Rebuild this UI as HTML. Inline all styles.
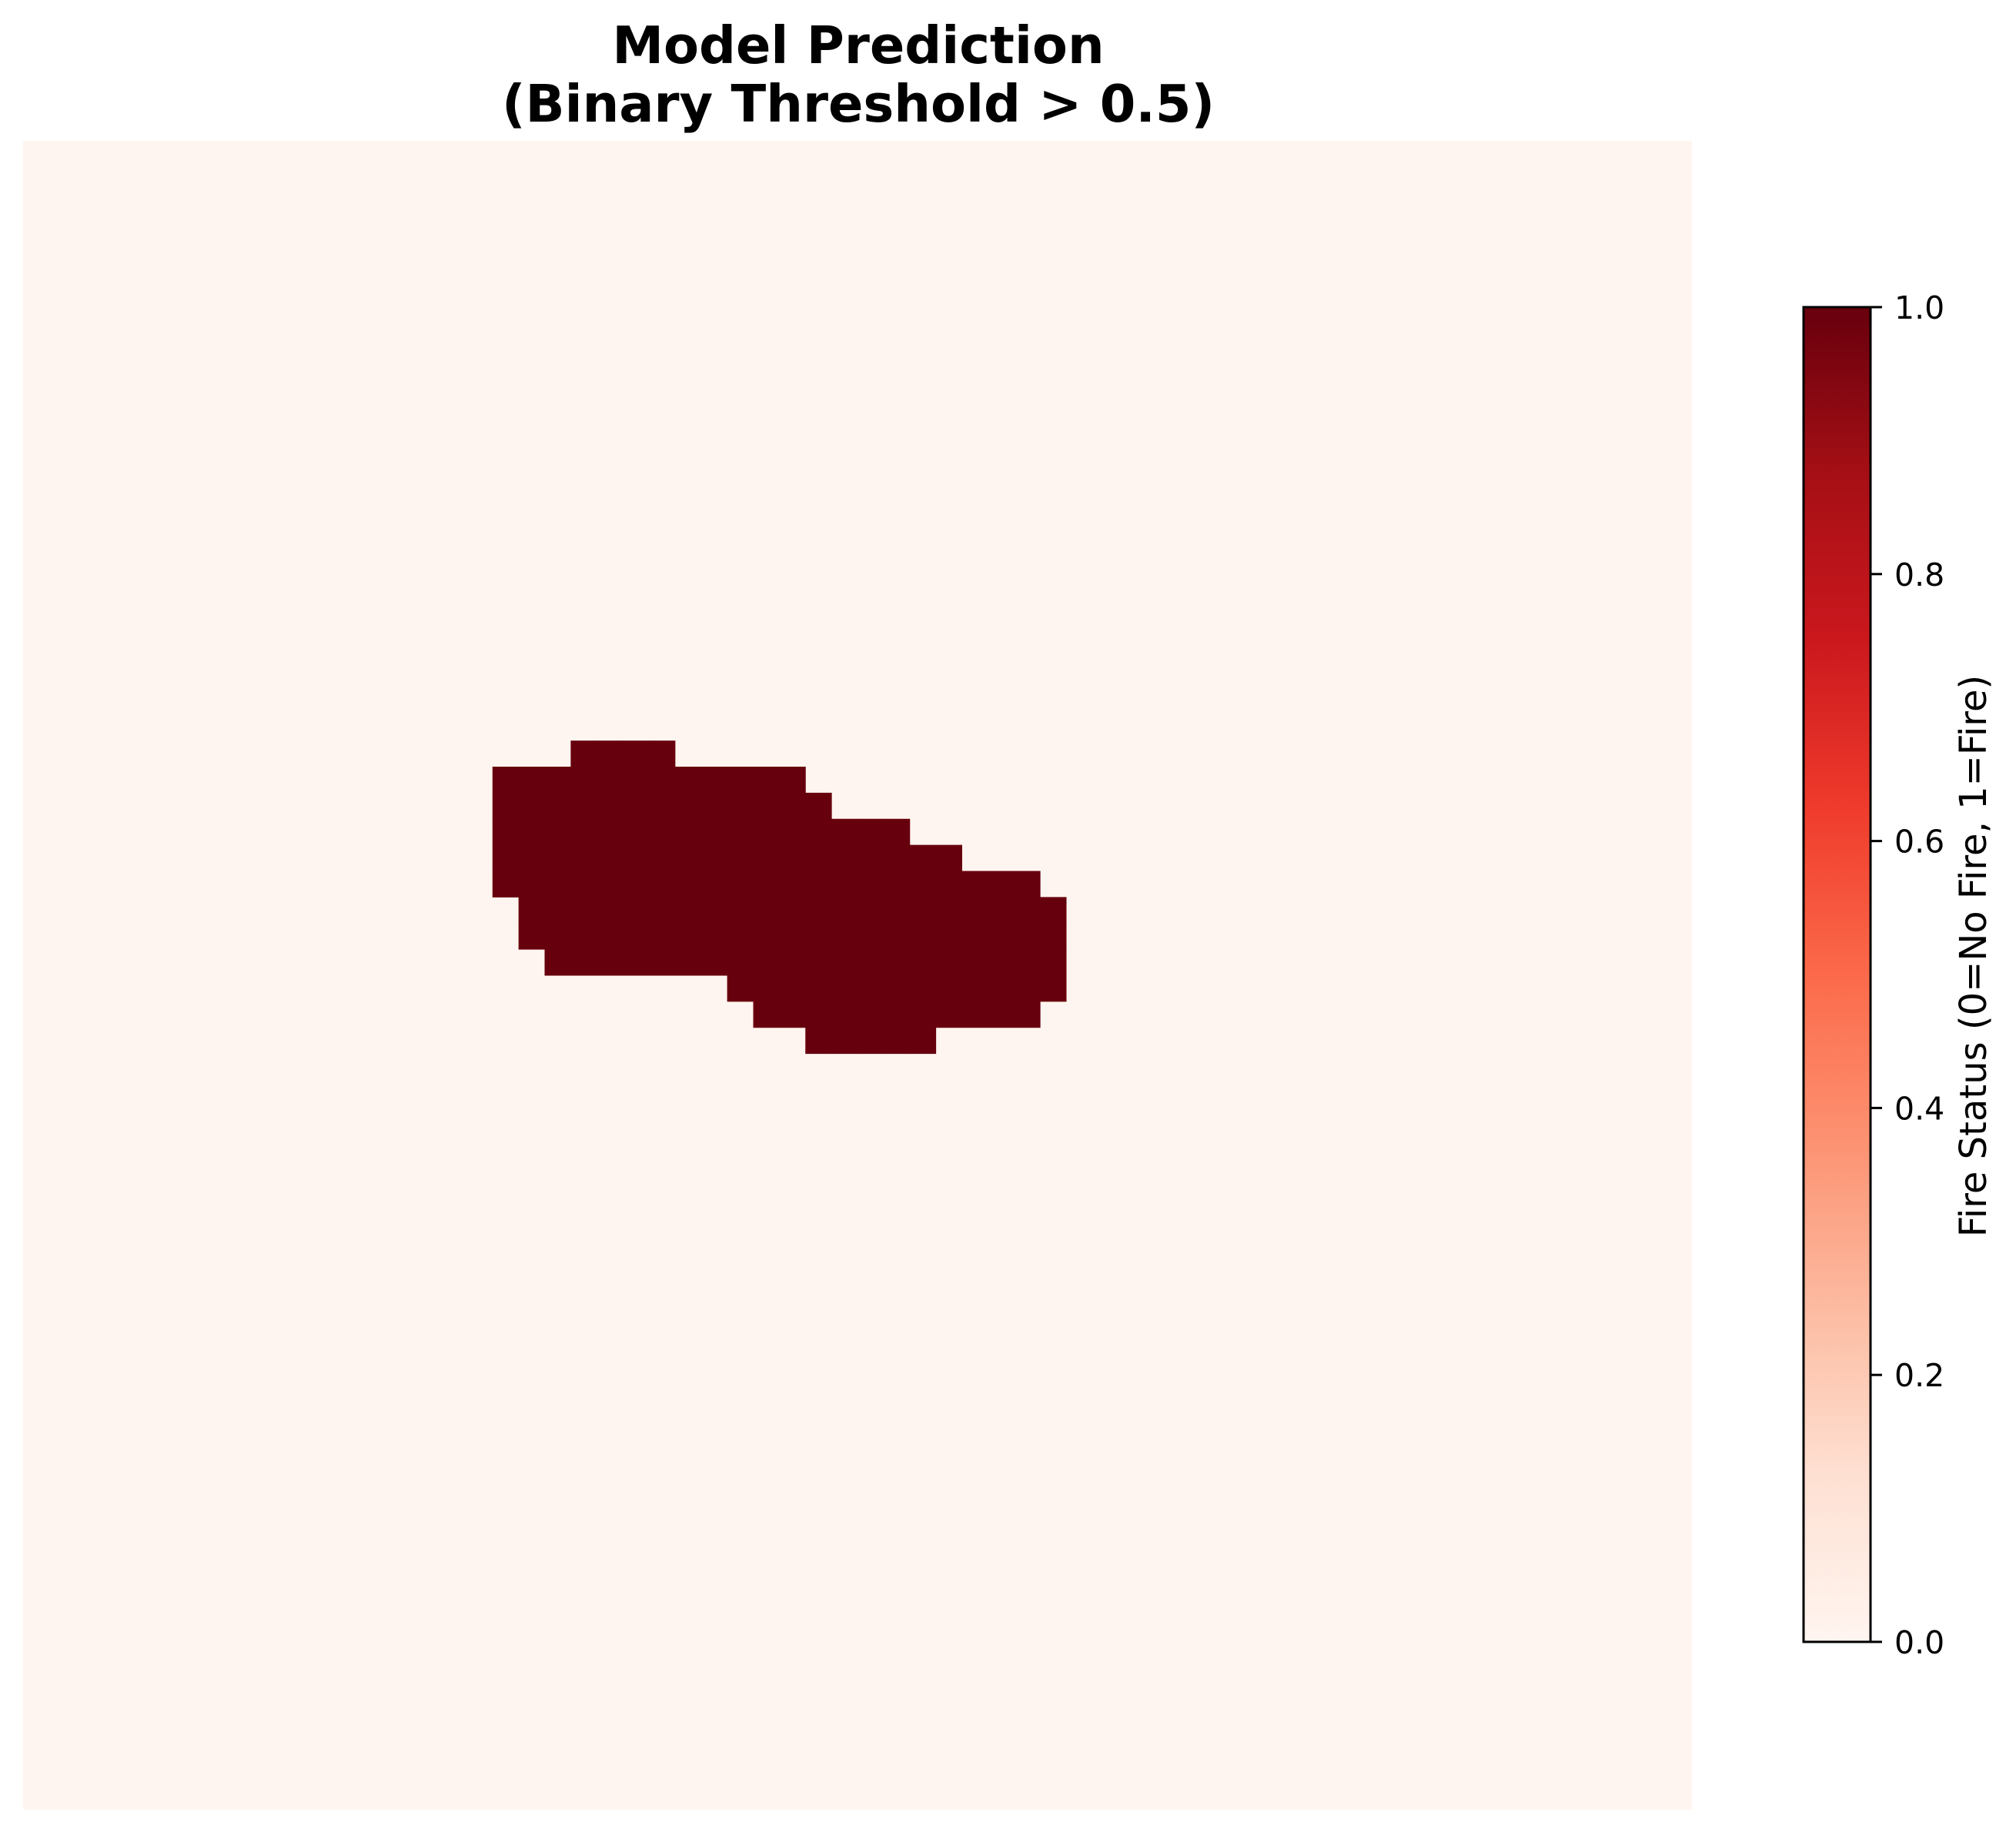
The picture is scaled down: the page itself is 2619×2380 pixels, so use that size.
<!DOCTYPE html>
<html><head><meta charset="utf-8"><style>
html,body{margin:0;padding:0;background:#fff;}
svg{display:block;font-family:"DejaVu Sans","Liberation Sans",sans-serif;}
</style></head><body>
<svg id="chart" width="2619" height="2380" viewBox="0 0 2619 2380">
<defs><linearGradient id="reds" x1="0" y1="1" x2="0" y2="0">
<stop offset="0" stop-color="#fff5f0"/><stop offset="0.125" stop-color="#fee0d2"/><stop offset="0.25" stop-color="#fcbba1"/><stop offset="0.375" stop-color="#fc9272"/><stop offset="0.5" stop-color="#fb6a4a"/><stop offset="0.625" stop-color="#ef3b2c"/><stop offset="0.75" stop-color="#cb181d"/><stop offset="0.875" stop-color="#a50f15"/><stop offset="1" stop-color="#67000d"/>
</linearGradient></defs>
<text x="1115" y="82" text-anchor="middle" font-size="67" font-weight="bold">Model Prediction</text>
<text x="1115" y="158" text-anchor="middle" font-size="67" font-weight="bold">(Binary Threshold &gt; 0.5)</text>
<g id="heat"></g>
<g id="cbar"></g>
<text transform="translate(2580,1242) rotate(-90)" text-anchor="middle" font-size="48">Fire Status (0=No Fire, 1=Fire)</text>
</svg>
<script>
const gridSize = 64;
const fireRows = [23,24,25,26,27,28,29,30,31,32,33,34];
const fireColStart = [21,18,18,18,18,18,19,19,20,27,28,30];
const fireColEnd = [25,30,31,34,36,39,40,40,40,40,39,35];
const cbarTicks = [0,0.2,0.4,0.6,0.8,1.0];
const cbarTickLabels = ["0.0","0.2","0.4","0.6","0.8","1.0"];

const NS="http://www.w3.org/2000/svg";
const hx0=30, hy0=183, hSize=2168;
const cell=hSize/gridSize;
const xCell=c=>hx0+c*cell, yCell=r=>hy0+r*cell;
const heat=document.getElementById('heat');
const bg=document.createElementNS(NS,'rect');
bg.setAttribute('x',hx0);bg.setAttribute('y',hy0);bg.setAttribute('width',hSize);bg.setAttribute('height',hSize);bg.setAttribute('fill','#fff5f0');


heat.appendChild(bg);
fireRows.forEach((r,i)=>{
  for(let c=fireColStart[i];c<fireColEnd[i];c++){
    const el=document.createElementNS(NS,'rect');
    el.setAttribute('x',xCell(c));el.setAttribute('y',yCell(r));
    el.setAttribute('width',cell+0.5);el.setAttribute('height',cell+0.5);
    el.setAttribute('fill','#67000d');
    
    
    heat.appendChild(el);
  }
});
const cb=document.getElementById('cbar');
const cx=2343, cw=87, cy0=2133, cy1=399;
const yC=v=>cy0+(cy1-cy0)*v;
const bar=document.createElementNS(NS,'rect');
bar.setAttribute('x',cx);bar.setAttribute('y',cy1);bar.setAttribute('width',cw);bar.setAttribute('height',cy0-cy1);
bar.setAttribute('fill','url(#reds)');bar.setAttribute('stroke','#000');bar.setAttribute('stroke-width','3');


cb.appendChild(bar);
cbarTicks.forEach((v,i)=>{
  const t=document.createElementNS(NS,'line');
  t.setAttribute('x1',cx+cw);t.setAttribute('x2',cx+cw+15);t.setAttribute('y1',yC(v));t.setAttribute('y2',yC(v));
  t.setAttribute('stroke','#000');t.setAttribute('stroke-width','3');
  
  
  cb.appendChild(t);
  const l=document.createElementNS(NS,'text');
  l.setAttribute('x',cx+cw+31);l.setAttribute('y',yC(v)+15);l.setAttribute('font-size','41');
  l.textContent=cbarTickLabels[i];
  
  
  cb.appendChild(l);
});
</script>
</body></html>
